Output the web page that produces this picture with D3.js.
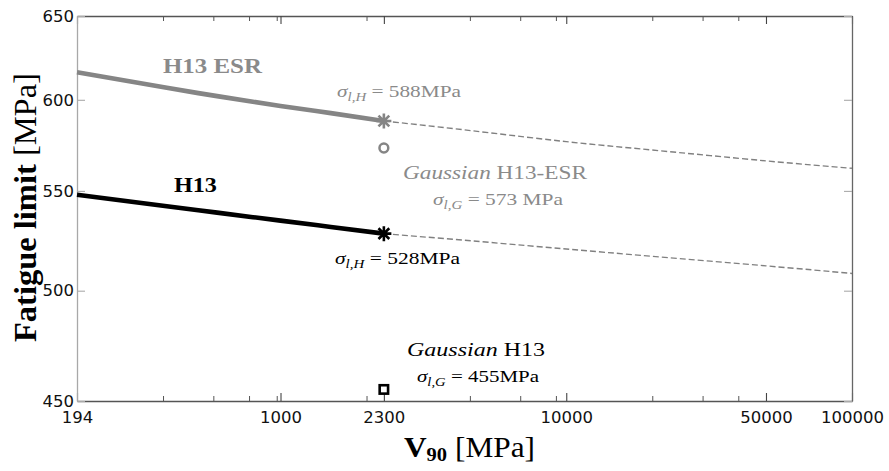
<!DOCTYPE html>
<html>
<head>
<meta charset="utf-8">
<script src="https://cdn.jsdelivr.net/npm/d3@7"></script>
<style>
  html, body { margin: 0; padding: 0; background: #fff; }
  svg { display: block; }
</style>
</head>
<body>
<svg id="chart" width="889" height="471"></svg>
<script>
// ---------------- data ----------------
const solidV = [194, 400, 600, 1000, 1500, 2300];
const dashV = [2300, 5000, 10000, 20000, 50000, 100000];
const esrSolid = [616, 606.9, 602.1, 596.5, 592.4, 588];
const esrDash = [588, 582, 576.5, 571.9, 566, 562];
const h13Solid = [548, 542, 538.7, 534.6, 531.4, 528];
const h13Dash = [528, 524, 520.3, 516.7, 512, 508.3];
const gaussV = 2300;
const gaussESR = 573;
const gaussH13 = 455;
const xMajorTicks = [194, 1000, 2300, 10000, 50000, 100000];
const xMinorTicks = [388, 582, 776, 970, 2000, 4600, 6900, 9200, 20000, 30000, 40000];
const yTicks = [450, 500, 550, 600, 650];

// ---------------- layout ----------------
const L = 77, R = 852, T = 16, B = 401;
const svg = d3.select("#chart");
const x = d3.scaleLog().domain([194, 100000]).range([L, R]);
const y = d3.scaleLog().domain([450, 650]).range([B, T]);

const SERIF = "'Liberation Serif', 'Times New Roman', serif";
const SANS = "'DejaVu Sans', sans-serif";
const GRAY_TXT = "#8a8a8a";
const GRAY_LINE = "#858585";

// ---------------- axes ----------------
function styleAxis(g, lineColor, tickColor) {
  g.select(".domain").attr("stroke", lineColor).attr("stroke-width", 1.3);
  g.selectAll(".tick line").attr("stroke", tickColor).attr("stroke-width", 1.1);
  g.selectAll(".tick text").attr("font-family", SANS).attr("font-size", 16.5).attr("fill", "#111");
}
const gB = svg.append("g").attr("transform", `translate(0,${B})`)
  .call(d3.axisBottom(x).tickValues(xMajorTicks).tickSizeInner(-8).tickSizeOuter(0)
    .tickPadding(10).tickFormat(d3.format("d")));
styleAxis(gB, "#555", "#444");
const gBm = svg.append("g").attr("transform", `translate(0,${B})`)
  .call(d3.axisBottom(x).tickValues(xMinorTicks).tickSizeInner(-5).tickSizeOuter(0).tickFormat(""));
gBm.select(".domain").remove();
gBm.selectAll(".tick line").attr("stroke", "#555").attr("stroke-width", 1);
const gT = svg.append("g").attr("transform", `translate(0,${T})`)
  .call(d3.axisTop(x).tickValues(xMajorTicks).tickSizeInner(-8).tickSizeOuter(0).tickFormat(""));
styleAxis(gT, "#555", "#444");
const gTm = svg.append("g").attr("transform", `translate(0,${T})`)
  .call(d3.axisTop(x).tickValues(xMinorTicks).tickSizeInner(-5).tickSizeOuter(0).tickFormat(""));
gTm.select(".domain").remove();
gTm.selectAll(".tick line").attr("stroke", "#555").attr("stroke-width", 1);
const gL = svg.append("g").attr("transform", `translate(${L},0)`)
  .call(d3.axisLeft(y).tickValues(yTicks).tickSizeInner(-8).tickSizeOuter(0)
    .tickPadding(3).tickFormat(d3.format("d")));
styleAxis(gL, "#a8a8a8", "#aaa");
const gR = svg.append("g").attr("transform", `translate(${R},0)`)
  .call(d3.axisRight(y).tickValues(yTicks).tickSizeInner(-8).tickSizeOuter(0).tickFormat(""));
styleAxis(gR, "#666", "#aaa");

// ---------------- curves ----------------
const line = d3.line().x(d => x(d[0])).y(d => y(d[1])).curve(d3.curveNatural);
const zip = (a, b) => a.map((v, i) => [v, b[i]]);
const plot = svg.append("g");

plot.append("path").attr("d", line(zip(dashV, esrDash)))
  .attr("fill", "none").attr("stroke", "#808080").attr("stroke-width", 1.4).attr("stroke-dasharray", "6,3");
plot.append("path").attr("d", line(zip(dashV, h13Dash)))
  .attr("fill", "none").attr("stroke", "#808080").attr("stroke-width", 1.4).attr("stroke-dasharray", "6,3");
plot.append("path").attr("d", line(zip(solidV, esrSolid)))
  .attr("fill", "none").attr("stroke", GRAY_LINE).attr("stroke-width", 4.6).attr("stroke-linecap", "butt");
plot.append("path").attr("d", line(zip(solidV, h13Solid)))
  .attr("fill", "none").attr("stroke", "#000").attr("stroke-width", 4.6).attr("stroke-linecap", "butt");

// markers
function star(r) {
  const d = r * 0.72;
  return `M${-r},0H${r}M0,${-r}V${r}M${-d},${-d}L${d},${d}M${-d},${d}L${d},${-d}`;
}
const esrEnd = esrSolid[esrSolid.length - 1];
const h13End = h13Solid[h13Solid.length - 1];
const endV = solidV[solidV.length - 1];
plot.append("path").attr("d", star(7.5)).attr("transform", `translate(${x(endV)},${y(esrEnd)})`)
  .attr("stroke", GRAY_LINE).attr("stroke-width", 2.6).attr("fill", "none");
plot.append("path").attr("d", star(7.5)).attr("transform", `translate(${x(endV)},${y(h13End)})`)
  .attr("stroke", "#000").attr("stroke-width", 2.6).attr("fill", "none");
plot.append("circle").attr("cx", x(gaussV)).attr("cy", y(gaussESR)).attr("r", 4.4)
  .attr("fill", "none").attr("stroke", GRAY_LINE).attr("stroke-width", 2.5);
plot.append("rect").attr("x", x(gaussV) - 4.2).attr("y", y(gaussH13) - 4.2).attr("width", 8.4).attr("height", 8.4)
  .attr("fill", "none").attr("stroke", "#000").attr("stroke-width", 2.6);

// ---------------- text helper ----------------
function label(parts, px, py, width, color, rotate) {
  const g = svg.append("g");
  const t = g.append("text").attr("font-family", SERIF).attr("fill", color);
  parts.forEach(p => {
    const s = t.append("tspan").text(p.t).attr("font-size", p.s);
    if (p.i) s.attr("font-style", "italic");
    if (p.b) s.attr("font-weight", "bold");
    if (p.dy) s.attr("dy", p.dy);
  });
  const w = t.node().getComputedTextLength();
  const sx = width / w;
  g.attr("transform", `translate(${px},${py})${rotate ? " rotate(-90)" : ""} scale(${sx},1)`);
  return g;
}
function sigma(sub, rest, size) {
  return [
    { t: "σ", s: size, i: true },
    { t: sub, s: size * 0.7, i: true, dy: size * 0.25 },
    { t: " = " + rest, s: size, dy: -size * 0.25 }
  ];
}

label([{ t: "H13 ESR", s: 21, b: true }], 163, 73, 99, GRAY_TXT);
label([{ t: "H13", s: 21, b: true }], 174, 192, 43, "#000");
label(sigma("l,H", "588MPa", 17), 337, 97, 124, GRAY_TXT);
label([{ t: "Gaussian", s: 19.5, i: true }, { t: " H13-ESR", s: 19.5 }], 403, 179, 184, GRAY_TXT);
label(sigma("l,G", "573 MPa", 17), 433, 205, 130, GRAY_TXT);
label(sigma("l,H", "528MPa", 17), 335, 264, 125, "#000");
label([{ t: "Gaussian", s: 19.5, i: true }, { t: " H13", s: 19.5 }], 407, 356, 138, "#000");
label(sigma("l,G", "455MPa", 17), 417, 382, 122, "#000");

// axis titles
label([{ t: "V", s: 29, b: true }, { t: "90", s: 19, b: true, dy: 4 }, { t: " [MPa]", s: 29, dy: -4 }],
  404, 457, 131, "#000");
label([{ t: "Fatigue limit", s: 31, b: true }, { t: " [MPa]", s: 31 }], 36, 342, 269, "#000", true);
</script>
</body>
</html>
